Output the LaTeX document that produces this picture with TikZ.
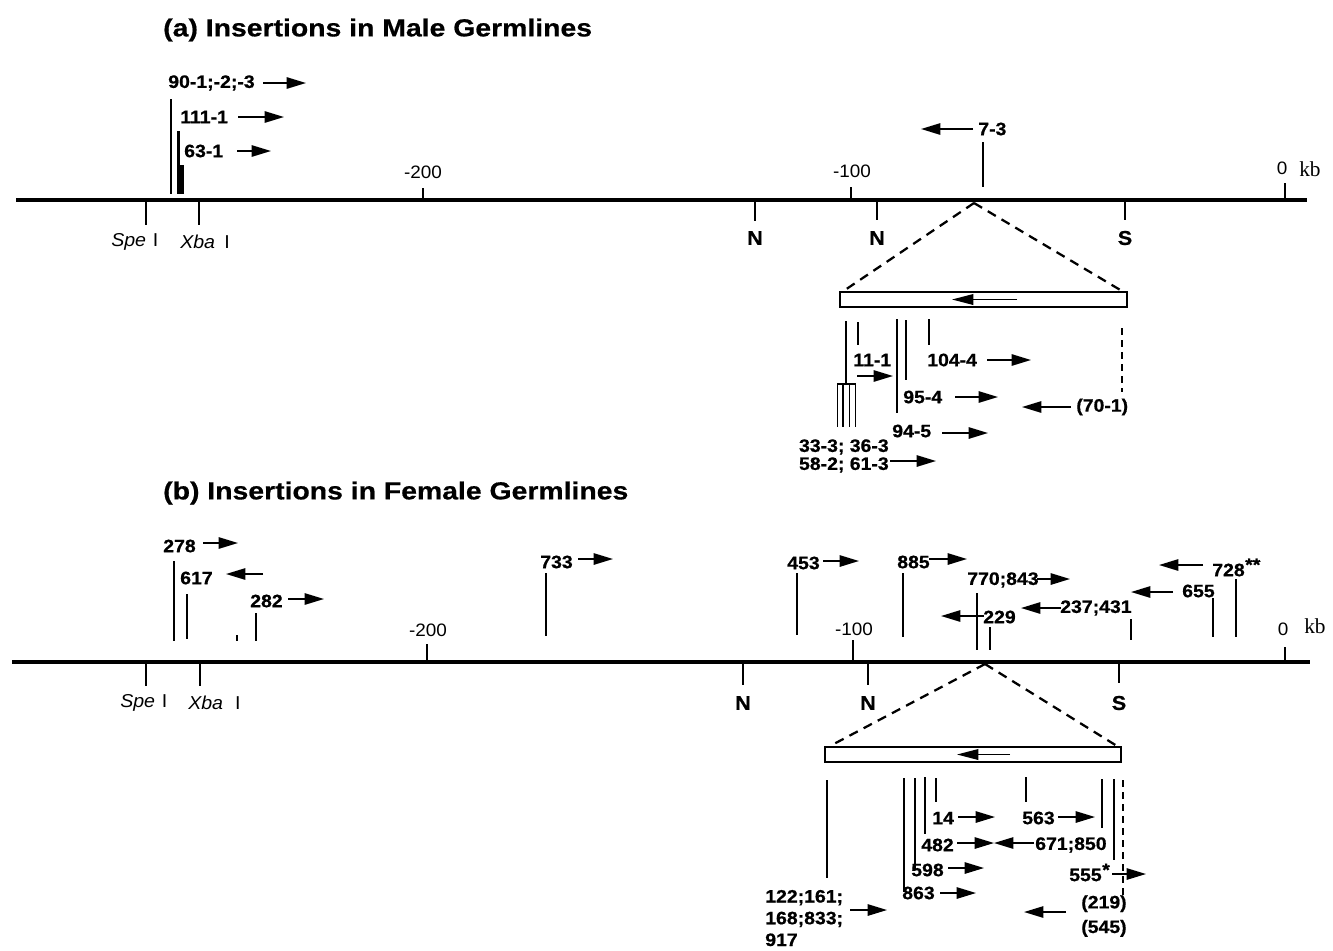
\documentclass[tikz,border=0pt]{standalone}
\usepackage{fontspec}
\setmainfont{Liberation Sans}
\newfontfamily\labfont[FakeStretch=1.08,FakeBold=0.7]{Liberation Sans Bold}
\newfontfamily\ttlfont[FakeStretch=1.15,FakeBold=0.6]{Liberation Sans Bold}
\newfontfamily\numfont[FakeStretch=1.05]{Liberation Sans}
\newfontfamily\kbfont{Liberation Serif}
\usetikzlibrary{arrows.meta}
\begin{document}
\begin{tikzpicture}[x=0.75pt,y=-0.75pt,
  axis/.style={line width=2.9pt},
  tick/.style={line width=1.4pt},
  ins/.style={line width=1.9pt},
  fork/.style={line width=1.2pt},
  dirarrow/.style={line width=1.3pt,-{Triangle[length=14.5pt,width=8.5pt]}},
  boxarrow/.style={line width=1.1pt,-{Triangle[length=16pt,width=8pt]}},
  zoomline/.style={line width=1.7pt,dash pattern=on 7pt off 5pt},
  dashins/.style={line width=1.6pt,dash pattern=on 5pt off 4pt},
  lab/.style={font=\labfont\fontsize{13.5}{16}\selectfont,inner sep=0pt,anchor=west},
  star/.style={font=\labfont\fontsize{13.5}{14}\selectfont,inner sep=0pt,anchor=west},
  ttl/.style={font=\ttlfont\fontsize{18.5}{21}\selectfont,inner sep=0pt,anchor=west},
  num/.style={font=\numfont\fontsize{13.5}{15}\selectfont,inner sep=0pt},
  site/.style={font=\labfont\fontsize{15}{17}\selectfont,inner sep=0pt},
  enz/.style={font=\numfont\fontsize{14}{16}\selectfont,inner sep=0pt,anchor=west},
  kb/.style={font=\kbfont\fontsize{16}{18}\selectfont,inner sep=0pt,anchor=west},
  gene/.style={line width=1.5pt,fill=white}]
\useasboundingbox (0,0) rectangle (1333,950);

% ================= (a) =================
\node[ttl] (ta) at (163,30) {(a) Insertions in Male Germlines};
\draw[axis] (16,200) -- (1307,200);
% scale ticks
\draw[tick] (423,188) -- (423,200);
\node[num] (a200) at (423,172) {-200};
\draw[tick] (851,187) -- (851,200);
\node[num] (a100) at (852,171) {-100};
\draw[tick] (1285,183) -- (1285,200);
\node[num] (a0) at (1282,168) {0};
\node[kb] (akb) at (1299,169) {kb};
% restriction sites
\draw[tick] (146,200) -- (146,225);
\draw[tick] (199,200) -- (199,225);
\node[enz] (aspe) at (111,242) {\textit{Spe}\hspace{5pt}I};
\node[enz] (axba) at (180,242) {\textit{Xba}\hspace{7pt}I};
\draw[tick] (755,200) -- (755,221);
\node[site] (an1) at (755,238) {N};
\draw[tick] (877,200) -- (877,220);
\node[site] (an2) at (877,238) {N};
\draw[tick] (1125,200) -- (1125,220);
\node[site] (as) at (1125,238) {S};
% insertions near left end
\draw[ins] (171,99) -- (171,194);
\draw[ins] (178.5,131) -- (178.5,194);
\fill (177.5,165) rectangle (183.5,194);
\node[lab] (i901) at (168,83) {90-1;-2;-3};
\draw[dirarrow] (263,83) -- (306,83);
\node[lab] (i111) at (180,117) {111-1};
\draw[dirarrow] (238,117) -- (284,117);
\node[lab] (i631) at (184,151) {63-1};
\draw[dirarrow] (237,151) -- (271,151);
% 7-3
\draw[ins] (983,142) -- (983,187);
\node[lab] (i73) at (978,129) {7-3};
\draw[dirarrow] (973,129) -- (921,129);
% zoom
\draw[zoomline] (974,203) -- (842,292);
\draw[zoomline] (974,203) -- (1122,291);
\draw[gene] (840,292) rectangle (1127,307);
\draw[boxarrow] (1017,299.5) -- (952,299.5);
% inset insertions
\draw[ins] (846,321) -- (846,384);
\draw[fork] (837,384) -- (856,384);
\foreach \xx in {837.5,843,849.5,855.5} \draw[fork] (\xx,384) -- (\xx,427);
\draw[ins] (858,322) -- (858,345);
\draw[ins] (897,319) -- (897,413);
\draw[ins] (906,320) -- (906,380);
\draw[ins] (929,319) -- (929,345);
\draw[dashins] (1122,328) -- (1122,392);
\node[lab] (i111b) at (853,360) {11-1};
\draw[dirarrow] (857,376) -- (893,376);
\node[lab] (i1044) at (927,360) {104-4};
\draw[dirarrow] (987,360) -- (1031,360);
\node[lab] (i954) at (903,397) {95-4};
\draw[dirarrow] (955,397) -- (998,397);
\node[lab] (i701) at (1076,407) {(70-1)};
\draw[dirarrow] (1071,407) -- (1022,407);
\node[lab] (i945) at (892,431) {94-5};
\draw[dirarrow] (942,433) -- (988,433);
\node[lab,anchor=east] (i333) at (889,447) {33-3; 36-3};
\node[lab,anchor=east] (i582) at (889,465) {58-2; 61-3};
\draw[dirarrow] (890,461) -- (936,461);

% ================= (b) =================
\node[ttl] (tb) at (163,493) {(b) Insertions in Female Germlines};
\draw[axis] (12,662) -- (1310,662);
\draw[tick] (427,644) -- (427,662);
\node[num] (b200) at (428,630) {-200};
\draw[tick] (853,640) -- (853,662);
\node[num] (b100) at (854,629) {-100};
\draw[tick] (1285,647) -- (1285,662);
\node[num] (b0) at (1283,629) {0};
\node[kb] (bkb) at (1304,626) {kb};
\draw[tick] (146,662) -- (146,686);
\draw[tick] (200,662) -- (200,686);
\node[enz] (bspe) at (120,703) {\textit{Spe}\hspace{5pt}I};
\node[enz] (bxba) at (188,703) {\textit{Xba}\hspace{9pt}I};
\draw[tick] (743,662) -- (743,685);
\node[site] (bn1) at (743,703) {N};
\draw[tick] (868,662) -- (868,685);
\node[site] (bn2) at (868,703) {N};
\draw[tick] (1119,662) -- (1119,683);
\node[site] (bs) at (1119,703) {S};
% insertions
\draw[ins] (174,561) -- (174,641);
\node[lab] (j278) at (163,546) {278};
\draw[dirarrow] (203,543) -- (238,543);
\draw[ins] (187,594) -- (187,639);
\node[lab] (j617) at (180,578) {617};
\draw[dirarrow] (263,574) -- (226,574);
\draw[ins] (237,635) -- (237,641);
\draw[ins] (256,613) -- (256,641);
\node[lab] (j282) at (250,601) {282};
\draw[dirarrow] (288,599) -- (324,599);
\draw[ins] (546,573) -- (546,636);
\node[lab] (j733) at (540,562) {733};
\draw[dirarrow] (578,559) -- (613,559);
\draw[ins] (797,573) -- (797,635);
\node[lab] (j453) at (787,563) {453};
\draw[dirarrow] (823,561) -- (859,561);
\draw[ins] (903,573) -- (903,637);
\node[lab] (j885) at (897,562) {885};
\draw[dirarrow] (929,559) -- (967,559);
\draw[ins] (977,593) -- (977,650);
\node[lab] (j770) at (967,580) {770;843};
\draw[dirarrow] (1037,579) -- (1070,579);
\draw[ins] (990,627) -- (990,650);
\node[lab] (j229) at (983,617) {229};
\draw[dirarrow] (984,616) -- (941,616);
\draw[ins] (1131,619) -- (1131,640);
\node[lab] (j237) at (1060,608) {237;431};
\draw[dirarrow] (1061,608) -- (1021,608);
\draw[ins] (1213,598) -- (1213,637);
\node[lab] (j655) at (1182,591) {655};
\draw[dirarrow] (1173,592) -- (1131,592);
\draw[ins] (1236,579) -- (1236,637);
\node[lab] (j728) at (1212,570) {728};
\node[star] (j728s) at (j728.north east) [anchor=west,yshift=-1pt] {**};
\draw[dirarrow] (1203,565) -- (1159,565);
% zoom
\draw[zoomline] (985,664) -- (830,746);
\draw[zoomline] (985,664) -- (1117,746);
\draw[gene] (825,747) rectangle (1121,762);
\draw[boxarrow] (1010,754.5) -- (957,754.5);
% inset insertions
\draw[ins] (827,780) -- (827,878);
\draw[ins] (904,778) -- (904,892);
\draw[ins] (915,778) -- (915,870);
\draw[ins] (925,777) -- (925,834);
\draw[ins] (936,778) -- (936,802);
\draw[ins] (1026,777) -- (1026,802);
\draw[ins] (1102,779) -- (1102,828);
\draw[ins] (1114,779) -- (1114,860);
\draw[dashins] (1123,780) -- (1123,896);
\node[lab] (k14) at (932,818) {14};
\draw[dirarrow] (958,817) -- (995,817);
\node[lab] (k563) at (1022,818) {563};
\draw[dirarrow] (1058,817) -- (1095,817);
\node[lab] (k482) at (921,845) {482};
\draw[dirarrow] (957,843) -- (994,843);
\node[lab] (k671) at (1035,845) {671;850};
\draw[dirarrow] (1034,843) -- (994,843);
\node[lab] (k598) at (911,870) {598};
\draw[dirarrow] (948,868) -- (984,868);
\node[lab] (k555) at (1069,875) {555};
\node[star] (k555s) at (k555.north east) [anchor=west,yshift=-1pt] {*};
\draw[dirarrow] (1112,874) -- (1146,874);
\node[lab] (k863) at (902,893) {863};
\draw[dirarrow] (940,893) -- (976,893);
\node[lab,align=left,anchor=base west,font=\labfont\fontsize{13.5}{16.3}\selectfont] (k122) at (765,946) {122;161;\\168;833;\\917};
\draw[dirarrow] (850,910) -- (887,910);
\node[lab,align=left,anchor=base west,font=\labfont\fontsize{13.5}{18.5}\selectfont] (k219) at (1081,933) {(219)\\(545)};
\draw[dirarrow] (1066,912) -- (1024,912);
\end{tikzpicture}
\end{document}
